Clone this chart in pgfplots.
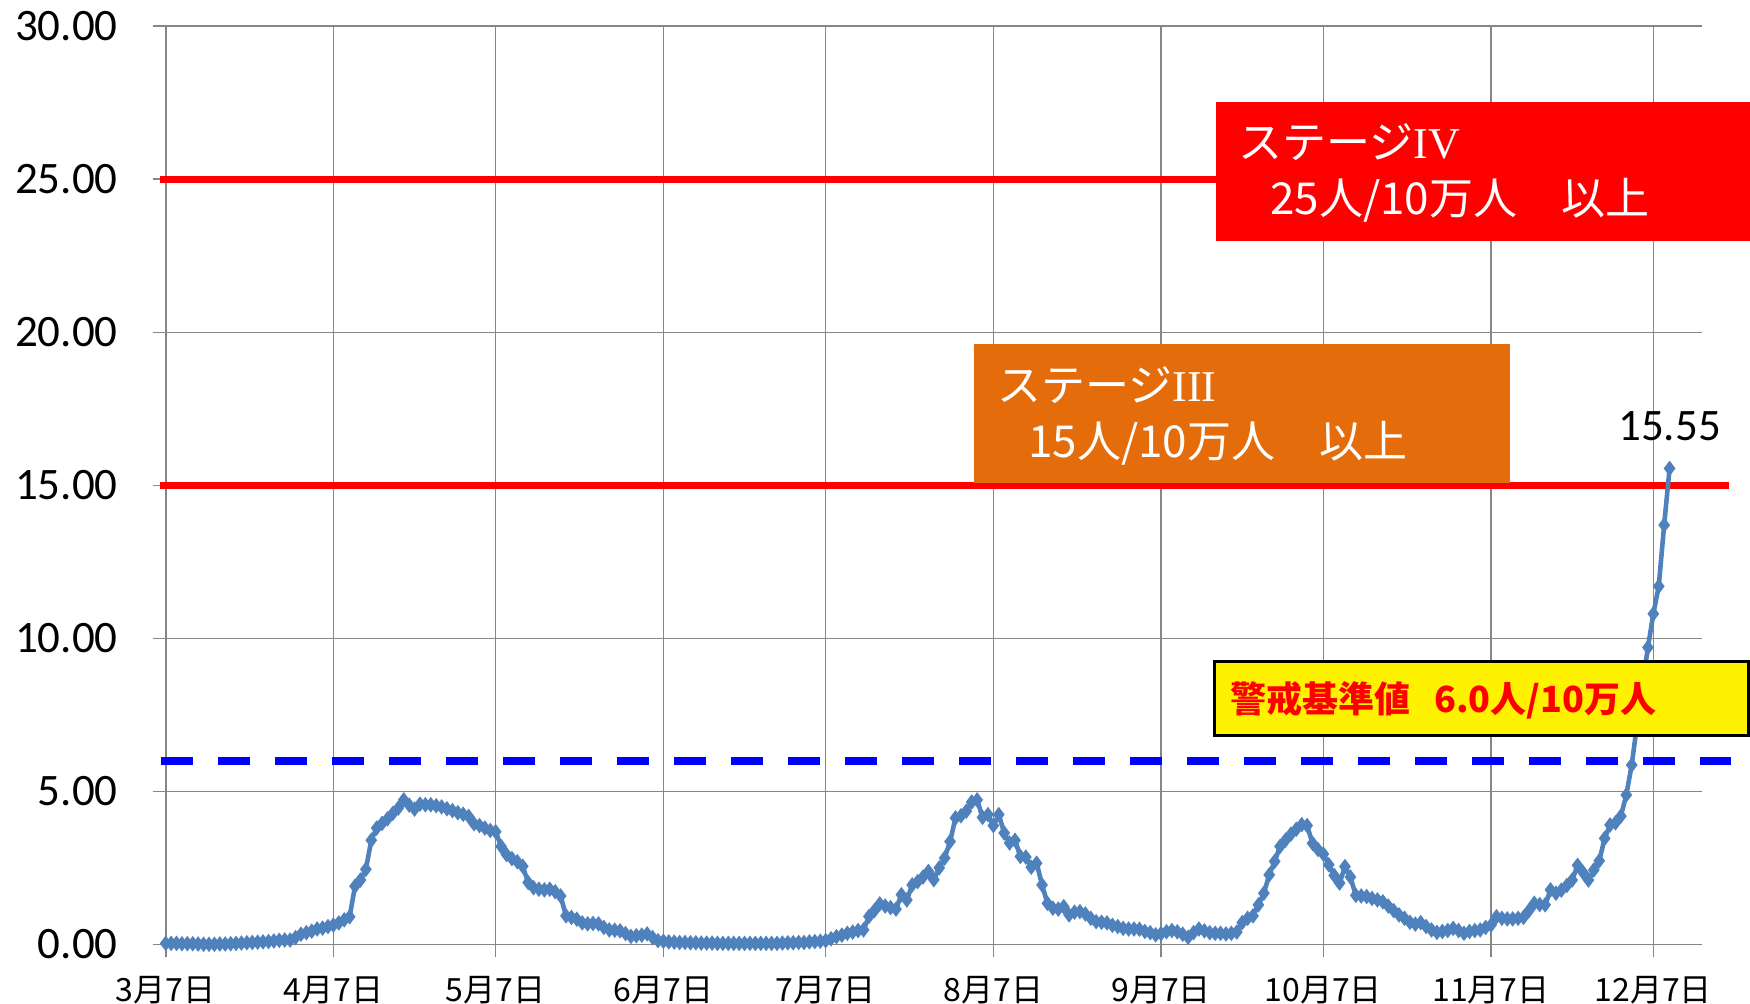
\documentclass[border=0pt]{standalone}
\usepackage{fontspec}
\setmainfont{Carlito}
\newfontfamily\jp{Noto Sans CJK JP}
\newfontfamily\rn{Liberation Serif}
\usepackage{pgfplots}
\pgfplotsset{compat=1.18}
\definecolor{gridgray}{RGB}{134,134,134}
\definecolor{serblue}{RGB}{79,129,189}
\definecolor{stageorange}{RGB}{228,108,10}

\begin{document}
\begin{tikzpicture}[x=1pt,y=1pt]
\useasboundingbox (0,0) rectangle (875,501.5);
\begin{axis}[
    at={(82.85pt,29.35pt)}, anchor=south west,
    scale only axis, width=768.15pt, height=459pt,
    xmin=0, xmax=284, ymin=0, ymax=30,
    axis lines*=left,
    xtick={0,31,61,92,122,153,184,214,245,275},
    xticklabels={3月7日,4月7日,5月7日,6月7日,7月7日,8月7日,9月7日,10月7日,11月7日,12月7日},
    ytick={0,5,10,15,20,25,30},
    yticklabels={0.00,5.00,10.00,15.00,20.00,25.00,30.00},
    grid=major,
    grid style={gridgray, line width=0.8pt},
    axis line style={gridgray, line width=0.8pt},
    tick style={gridgray, line width=0.8pt},
    tick align=outside, major tick length=6.5pt,
    xticklabel style={font=\jp\fontsize{16}{19}\selectfont, text=black, yshift=-6pt},
    yticklabel style={font=\fontsize{22.5}{27}\selectfont, text=black, xshift=-14pt},
    clip=false,
]
% stage lines
\addplot[red, line width=3.35pt] coordinates {(-1.05,25) (250,25)};
\addplot[red, line width=3.35pt] coordinates {(-1.05,15) (288.9,15)};
\addplot[blue, line width=4pt, dash pattern=on 16pt off 12.5pt] coordinates {(-0.87,6) (289.4,6)};

% daily values, day 0 = 3/7
\addplot[serblue, line width=2.3pt, mark=diamond*, mark size=2pt, mark options={solid}] coordinates {
(0,0.03)(1,0.03)(2,0.03)(3,0.02)(4,0.02)(5,0.02)(6,0.01)(7,0.00)(8,0.00)(9,0.00)
(10,0.01)(11,0.01)(12,0.02)(13,0.03)(14,0.04)(15,0.05)(16,0.06)(17,0.07)(18,0.08)(19,0.09)
(20,0.11)(21,0.13)(22,0.14)(23,0.14)(24,0.22)(25,0.33)(26,0.38)(27,0.43)(28,0.50)(29,0.53)
(30,0.58)(31,0.63)(32,0.70)(33,0.80)(34,0.90)(35,1.90)(36,2.10)(37,2.45)(38,3.40)(39,3.80)
(40,3.95)(41,4.10)(42,4.28)(43,4.45)(44,4.72)(45,4.55)(46,4.42)(47,4.58)(48,4.56)(49,4.56)
(50,4.53)(51,4.49)(52,4.43)(53,4.37)(54,4.30)(55,4.25)(56,4.18)(57,3.94)(58,3.88)(59,3.80)
(60,3.72)(61,3.68)(62,3.20)(63,2.93)(64,2.80)(65,2.70)(66,2.55)(67,2.02)(68,1.85)(69,1.80)
(70,1.78)(71,1.80)(72,1.72)(73,1.58)(74,0.93)(75,0.88)(76,0.82)(77,0.70)(78,0.67)(79,0.68)
(80,0.67)(81,0.55)(82,0.47)(83,0.46)(84,0.44)(85,0.35)(86,0.26)(87,0.28)(88,0.30)(89,0.34)
(90,0.22)(91,0.12)(92,0.10)(93,0.08)(94,0.07)(95,0.06)(96,0.06)(97,0.05)(98,0.05)(99,0.04)
(100,0.04)(101,0.04)(102,0.03)(103,0.03)(104,0.03)(105,0.03)(106,0.03)(107,0.03)(108,0.03)(109,0.03)
(110,0.03)(111,0.03)(112,0.03)(113,0.03)(114,0.04)(115,0.05)(116,0.05)(117,0.06)(118,0.06)(119,0.08)
(120,0.09)(121,0.10)(122,0.12)(123,0.18)(124,0.25)(125,0.30)(126,0.36)(127,0.40)(128,0.45)(129,0.47)
(130,0.91)(131,1.10)(132,1.32)(133,1.25)(134,1.20)(135,1.15)(136,1.62)(137,1.45)(138,1.94)(139,2.05)
(140,2.20)(141,2.38)(142,2.11)(143,2.50)(144,2.82)(145,3.36)(146,4.13)(147,4.20)(148,4.35)(149,4.65)
(150,4.72)(151,4.15)(152,4.24)(153,3.88)(154,4.24)(155,3.64)(156,3.31)(157,3.40)(158,2.87)(159,2.85)
(160,2.52)(161,2.65)(162,1.94)(163,1.34)(164,1.18)(165,1.15)(166,1.23)(167,0.96)(168,1.05)(169,1.07)
(170,0.99)(171,0.85)(172,0.74)(173,0.72)(174,0.70)(175,0.62)(176,0.58)(177,0.52)(178,0.50)(179,0.50)
(180,0.49)(181,0.42)(182,0.38)(183,0.31)(184,0.35)(185,0.41)(186,0.45)(187,0.41)(188,0.33)(189,0.23)
(190,0.38)(191,0.50)(192,0.44)(193,0.38)(194,0.36)(195,0.36)(196,0.34)(197,0.36)(198,0.40)(199,0.71)
(200,0.85)(201,0.93)(202,1.29)(203,1.67)(204,2.27)(205,2.71)(206,3.20)(207,3.40)(208,3.60)(209,3.76)
(210,3.91)(211,3.88)(212,3.30)(213,3.10)(214,2.95)(215,2.60)(216,2.25)(217,2.00)(218,2.54)(219,2.20)
(220,1.60)(221,1.58)(222,1.56)(223,1.50)(224,1.45)(225,1.39)(226,1.25)(227,1.10)(228,0.96)(229,0.85)
(230,0.72)(231,0.66)(232,0.71)(233,0.58)(234,0.47)(235,0.39)(236,0.42)(237,0.45)(238,0.52)(239,0.45)
(240,0.36)(241,0.42)(242,0.45)(243,0.47)(244,0.55)(245,0.63)(246,0.90)(247,0.85)(248,0.83)(249,0.83)
(250,0.85)(251,0.88)(252,1.10)(253,1.34)(254,1.30)(255,1.29)(256,1.78)(257,1.67)(258,1.77)(259,1.92)
(260,2.10)(261,2.58)(262,2.35)(263,2.10)(264,2.43)(265,2.73)(266,3.46)(267,3.90)(268,3.97)(269,4.19)
(270,4.88)(271,5.86)(272,7.20)(273,8.50)(274,9.70)(275,10.80)(276,11.70)(277,13.70)(278,15.55)
};
\node[anchor=base, yshift=14pt, font=\fontsize{22.5}{27}\selectfont] at (axis cs:278,15.55) {15.55};
\end{axis}

% stage boxes
\fill[red] (608,381) rectangle (876,450.5);
\node[anchor=west, inner sep=0pt, text=white, font=\jp\fontsize{22}{26}\selectfont] at (619,430.5) {ステージ{\rn IV}};
\node[anchor=west, inner sep=0pt, text=white, font=\jp\fontsize{22}{26}\selectfont] at (635,401.5) {25人/10万人　以上};

\fill[stageorange] (487,260) rectangle (755,329.5);
\node[anchor=west, inner sep=0pt, text=white, font=\jp\fontsize{22}{26}\selectfont] at (498.5,309) {ステージ{\rn III}};
\node[anchor=west, inner sep=0pt, text=white, font=\jp\fontsize{22}{26}\selectfont] at (514,280) {15人/10万人　以上};

\filldraw[fill=yellow, draw=black, line width=1.5pt] (607.25,133.75) rectangle (874.2,170.75);
\node[anchor=west, inner sep=0pt, text=red, font=\jp\bfseries\fontsize{18}{22}\selectfont] at (615,151.5) {警戒基準値\hspace{12pt}6.0人/10万人};
\end{tikzpicture}
\end{document}
